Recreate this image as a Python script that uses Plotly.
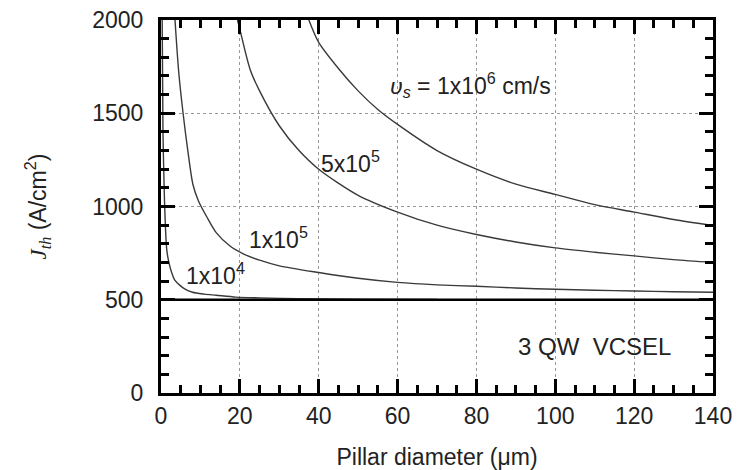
import plotly.graph_objects as go

# Pillar diameter (um) and threshold current density (A/cm^2) for each surface recombination velocity
d_1e6 = [37.5, 40, 45, 50, 55, 60, 70, 80, 90, 100, 110, 120, 130, 140]
j_1e6 = [2000, 1880, 1740, 1620, 1520, 1440, 1300, 1200, 1120, 1065, 1010, 970, 930, 898]

d_5e5 = [19.4, 20, 22.6, 25, 30, 35, 40, 50, 60, 70, 80, 90, 100, 110, 120, 130, 140]
j_5e5 = [2000, 1950, 1735, 1620, 1433, 1300, 1200, 1060, 970, 900, 850, 810, 778, 755, 735, 715, 700]

d_1e5 = [3.55, 4.5, 5.6, 6.8, 8.1, 9.5, 11.6, 14, 17.5, 21, 25, 30, 40, 50, 60, 70, 80, 90, 100, 110, 120, 130, 140]
j_1e5 = [2000, 1720, 1500, 1300, 1118, 1030, 945, 860, 788, 745, 712, 682, 646, 615, 593, 580, 572, 563, 556, 551, 547, 543, 540]

d_1e4 = [0.3, 0.5, 0.8, 1.0, 1.45, 2, 2.7, 3.5, 4.8, 6, 8, 11, 14, 19, 25, 35, 50, 70]
j_1e4 = [2000, 1400, 1100, 960, 770, 700, 646, 605, 577, 558, 540, 530, 524, 514, 510, 506, 503, 501]

d_base = [0, 140]
j_base = [500, 500]

curve_color = "#3a3a3a"
font_family = "Liberation Sans, Arial, sans-serif"

fig = go.Figure()
for dx, jy in [(d_1e6, j_1e6), (d_5e5, j_5e5), (d_1e5, j_1e5), (d_1e4, j_1e4)]:
    fig.add_trace(go.Scatter(x=dx, y=jy, mode="lines",
                             line=dict(color=curve_color, width=1.4, shape="spline", smoothing=0.8),
                             hoverinfo="skip", showlegend=False, cliponaxis=True))
fig.add_trace(go.Scatter(x=d_base, y=j_base, mode="lines",
                         line=dict(color="black", width=2.6), showlegend=False, hoverinfo="skip"))

ann_font = dict(family=font_family, size=23, color="#222")
annotations = [
    dict(x=78.4, y=1654, text="<i>υ<sub>s</sub></i> = 1x10<sup>6</sup> cm/s"),
    dict(x=48, y=1239, text="5x10<sup>5</sup>"),
    dict(x=29.7, y=830, text="1x10<sup>5</sup>"),
    dict(x=13.7, y=640, text="1x10<sup>4</sup>"),
    dict(x=110, y=247, text="3 QW\u00a0\u00a0VCSEL", font=dict(family=font_family, size=24, color="#222")),
]
for a in annotations:
    a.setdefault("font", ann_font)
    a.update(xref="x", yref="y", showarrow=False)

axis_common = dict(
    showline=True, linecolor="black", linewidth=3, mirror="allticks",
    ticks="inside", ticklen=14, tickwidth=2.5, tickcolor="black",
    showgrid=True, gridcolor="#999", griddash="dot", gridwidth=1,
    zeroline=False, ticklabeloverflow="allow",
    tickfont=dict(family=font_family, size=23, color="#222"),
)

fig.update_layout(
    width=747, height=470,
    margin=dict(l=153, r=42, t=12, b=85),
    plot_bgcolor="white", paper_bgcolor="white",
    annotations=annotations,
    xaxis=dict(range=[0, 140], dtick=20, tick0=0, automargin="bottom",
               minor=dict(ticks="inside", ticklen=8, tickwidth=2.5, tickcolor="black", dtick=5, showgrid=False),
               title=dict(text="Pillar diameter (μm)", font=dict(family=font_family, size=23, color="#222"), standoff=22),
               **axis_common),
    yaxis=dict(range=[0, 2000], dtick=500, tick0=0, automargin="left",
               minor=dict(ticks="inside", ticklen=8, tickwidth=2.5, tickcolor="black", dtick=100, showgrid=False),
               title=dict(text="<span style='font-family:Liberation Serif'><i>J</i><sub><i>th</i></sub></span> (A/cm<sup>2</sup>)",
                          font=dict(family=font_family, size=23, color="#222"), standoff=40),
               ticklabelstandoff=10,
               **axis_common),
)

fig.write_html("out.html")
